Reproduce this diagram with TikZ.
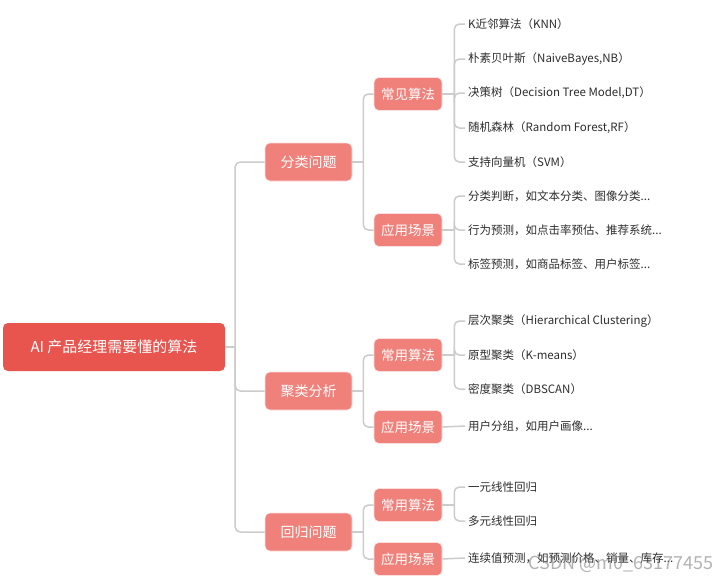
\documentclass[tikz,border=0pt]{standalone}
\usepackage{fontspec}
\setmainfont{Noto Sans CJK SC}
\usetikzlibrary{calc}
\definecolor{rootred}{RGB}{232,84,78}
\definecolor{nodered}{RGB}{240,128,122}
\definecolor{linegray}{RGB}{204,204,204}
\definecolor{leaftext}{RGB}{45,45,45}
\begin{document}
\begin{tikzpicture}[x=1pt,y=-1pt,
  rootbox/.style={fill=rootred, rounded corners=5pt, text=white, font=\fontsize{15}{18}\selectfont, minimum width=222pt, minimum height=48pt, inner sep=0pt},
  lonebox/.style={fill=nodered, draw=white!75!nodered, line width=0.6pt, rounded corners=5pt, text=white, font=\fontsize{14}{17}\selectfont, minimum width=87pt, minimum height=38pt, inner sep=0pt},
  ltwobox/.style={fill=nodered, draw=white!75!nodered, line width=0.6pt, rounded corners=5pt, text=white, font=\fontsize{13.5}{16}\selectfont, minimum width=68pt, minimum height=33pt, inner sep=0pt},
  leaf/.style={anchor=west, text=leaftext, font=\fontsize{11.5}{14}\selectfont, inner xsep=3pt, inner ysep=0pt},
  conn/.style={draw=linegray, line width=1.5pt, rounded corners=5pt}]
\fill[white] (0,0) rectangle (726,582);
\useasboundingbox (0,0) rectangle (726,582);

% main nodes
\node[rootbox] (root) at (114,347) {AI 产品经理需要懂的算法};
\node[lonebox] (c1) at (308.5,162) {分类问题};
\node[lonebox] (c2) at (308.5,391) {聚类分析};
\node[lonebox] (c3) at (308.5,532) {回归问题};
\node[ltwobox] (c1a) at (408,94) {常见算法};
\node[ltwobox] (c1b) at (408,230) {应用场景};
\node[ltwobox] (c2a) at (408,355) {常用算法};
\node[ltwobox] (c2b) at (408,427) {应用场景};
\node[ltwobox] (c3a) at (408,505) {常用算法};
\node[ltwobox] (c3b) at (408,559) {应用场景};

% leaves
\node[leaf] (k1) at (465,24) {K近邻算法（KNN）};
\node[leaf] (k2) at (465,59) {朴素贝叶斯（NaiveBayes,NB）};
\node[leaf] (k3) at (465,93) {决策树（Decision Tree Model,DT）};
\node[leaf] (k4) at (465,128) {随机森林（Random Forest,RF）};
\node[leaf] (k5) at (465,162) {支持向量机（SVM）};
\node[leaf] (a1) at (465,196) {分类判断，如文本分类、图像分类...};
\node[leaf] (a2) at (465,230) {行为预测，如点击率预估、推荐系统...};
\node[leaf] (a3) at (465,264) {标签预测，如商品标签、用户标签...};
\node[leaf] (j1) at (465,321) {层次聚类（Hierarchical Clustering）};
\node[leaf] (j2) at (465,355) {原型聚类（K-means）};
\node[leaf] (j3) at (465,389) {密度聚类（DBSCAN）};
\node[leaf] (u1) at (465,426) {用户分组，如用户画像...};
\node[leaf] (r1) at (465,487) {一元线性回归};
\node[leaf] (r2) at (465,521) {多元线性回归};
\node[leaf] (v1) at (465,558) {连续值预测，如预测价格、销量、库存...};

% connectors
\coordinate (t0) at ($(root.east)+(10,0)$);
\draw[conn] (root.east) -- (t0);
\foreach \c in {c1,c2,c3} \draw[conn] (t0) |- (\c.west);

\coordinate (t1) at ($(c1.east)+(11,0)$);
\draw[conn] (c1.east) -- (t1);
\foreach \c in {c1a,c1b} \draw[conn] (t1) |- (\c.west);
\coordinate (t2) at ($(c2.east)+(11,0)$);
\draw[conn] (c2.east) -- (t2);
\foreach \c in {c2a,c2b} \draw[conn] (t2) |- (\c.west);
\coordinate (t3) at ($(c3.east)+(11,0)$);
\draw[conn] (c3.east) -- (t3);
\foreach \c in {c3a,c3b} \draw[conn] (t3) |- (\c.west);

\coordinate (s1) at ($(c1a.east)+(12,0)$);
\draw[conn] (c1a.east) -- (s1);
\foreach \c in {k1,k2,k3,k4,k5} \draw[conn] (s1) |- (\c.west);
\coordinate (s2) at ($(c1b.east)+(12,0)$);
\draw[conn] (c1b.east) -- (s2);
\foreach \c in {a1,a2,a3} \draw[conn] (s2) |- (\c.west);
\coordinate (s3) at ($(c2a.east)+(12,0)$);
\draw[conn] (c2a.east) -- (s3);
\foreach \c in {j1,j2,j3} \draw[conn] (s3) |- (\c.west);
\draw[conn] (c2b.east) -- (u1.west);
\coordinate (s5) at ($(c3a.east)+(12,0)$);
\draw[conn] (c3a.east) -- (s5);
\foreach \c in {r1,r2} \draw[conn] (s5) |- (\c.west);
\draw[conn] (c3b.east) -- (v1.west);

% watermark
\node[text=gray, opacity=0.6, font=\fontsize{18}{20}\selectfont, inner sep=0pt] (wm) at (621,564) {CSDN @m0\_63177455};
\end{tikzpicture}
\end{document}
